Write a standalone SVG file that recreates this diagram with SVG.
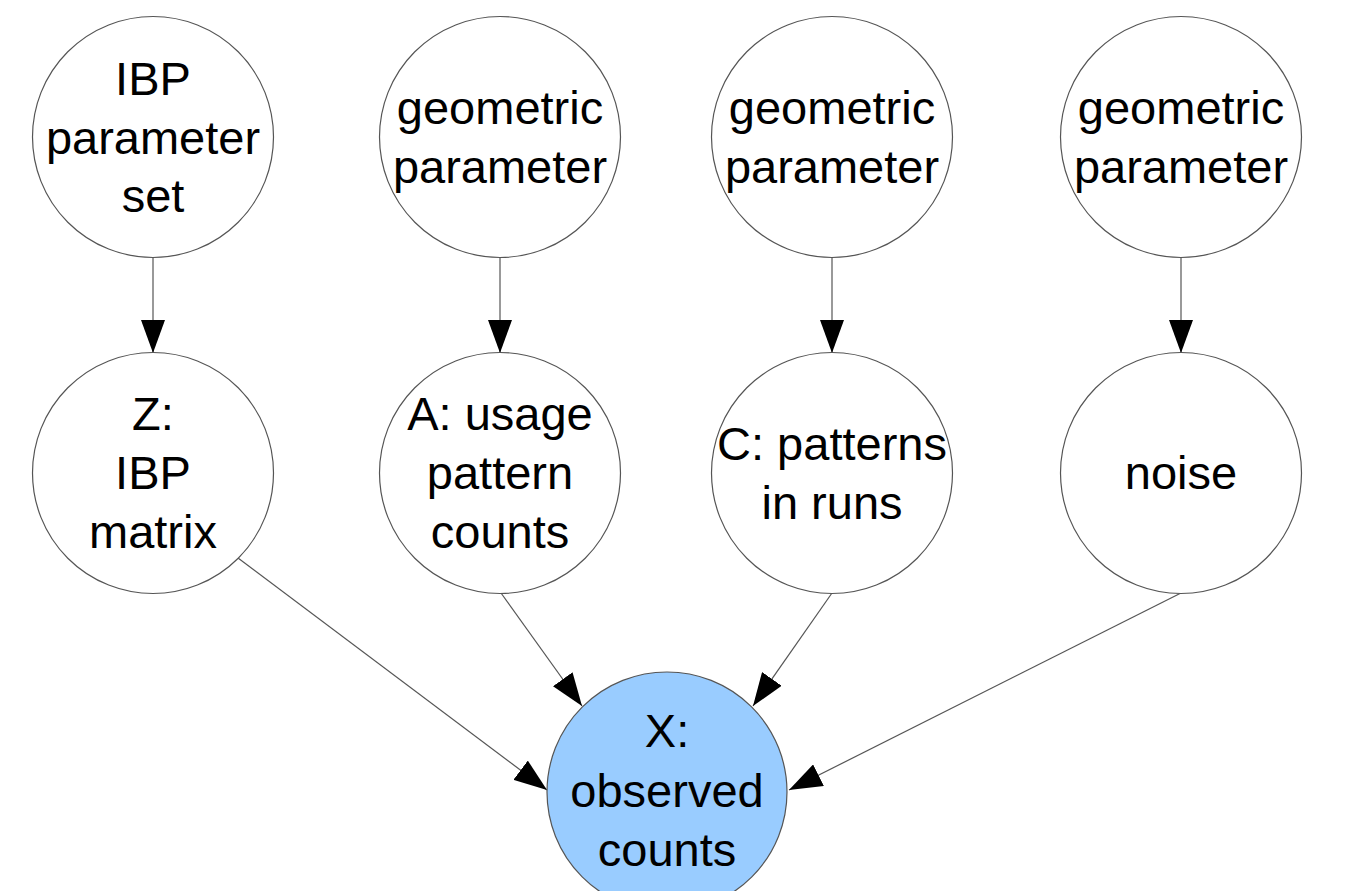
<svg xmlns="http://www.w3.org/2000/svg" width="1349" height="891" viewBox="0 0 1349 891">
<style>
.n{fill:#fff;stroke:#555;stroke-width:1.2}
.x{fill:#99ccff;stroke:#555;stroke-width:1.2}
.t{font-family:"Liberation Sans",Arial,sans-serif;font-size:47px;fill:#000;text-anchor:middle}
.e{stroke:#555;stroke-width:1.2;fill:none;marker-end:url(#ah)}
</style>
<defs>
<marker id="ah" markerUnits="userSpaceOnUse" markerWidth="34" markerHeight="24" viewBox="0 0 34 24" refX="33" refY="12" orient="auto">
<path d="M0,0 L33,12 L0,24 Z" fill="#000"/>
</marker>
</defs>
<rect width="1349" height="891" fill="#fff"/>
<g id="connectors">
<line class="e" x1="153" y1="258" x2="153" y2="353"/>
<line class="e" x1="500" y1="258" x2="500" y2="353"/>
<line class="e" x1="832" y1="258" x2="832" y2="353"/>
<line class="e" x1="1181" y1="258" x2="1181" y2="353"/>
<line class="e" x1="238" y1="558" x2="547" y2="790"/>
<line class="e" x1="501" y1="593" x2="582" y2="706"/>
<line class="e" x1="832" y1="593" x2="753" y2="706"/>
<line class="e" x1="1181" y1="593" x2="789" y2="790"/>
</g>
<g id="ibp-param">
<circle class="n" cx="153" cy="137" r="120.5"/>
<text class="t" x="153" y="95">IBP</text>
<text class="t" x="153" y="154">parameter</text>
<text class="t" x="153" y="212">set</text>
</g>
<g id="geo1">
<circle class="n" cx="500" cy="137" r="120.5"/>
<text class="t" x="500" y="124">geometric</text>
<text class="t" x="500" y="183">parameter</text>
</g>
<g id="geo2">
<circle class="n" cx="832" cy="137" r="120.5"/>
<text class="t" x="832" y="124">geometric</text>
<text class="t" x="832" y="183">parameter</text>
</g>
<g id="geo3">
<circle class="n" cx="1181" cy="137" r="120.5"/>
<text class="t" x="1181" y="124">geometric</text>
<text class="t" x="1181" y="183">parameter</text>
</g>
<g id="z">
<circle class="n" cx="153" cy="473" r="120.5"/>
<text class="t" x="153" y="430">Z:</text>
<text class="t" x="153" y="489">IBP</text>
<text class="t" x="153" y="548">matrix</text>
</g>
<g id="a">
<circle class="n" cx="500" cy="473" r="120.5"/>
<text class="t" x="500" y="430">A: usage</text>
<text class="t" x="500" y="489">pattern</text>
<text class="t" x="500" y="548">counts</text>
</g>
<g id="c">
<circle class="n" cx="832" cy="473" r="120.5"/>
<text class="t" x="832" y="460">C: patterns</text>
<text class="t" x="832" y="519">in runs</text>
</g>
<g id="noise">
<circle class="n" cx="1181" cy="473" r="120.5"/>
<text class="t" x="1181" y="489">noise</text>
</g>
<g id="x">
<circle class="x" cx="667" cy="792" r="120"/>
<text class="t" x="667" y="747">X:</text>
<text class="t" x="667" y="807">observed</text>
<text class="t" x="667" y="866">counts</text>
</g>
</svg>
